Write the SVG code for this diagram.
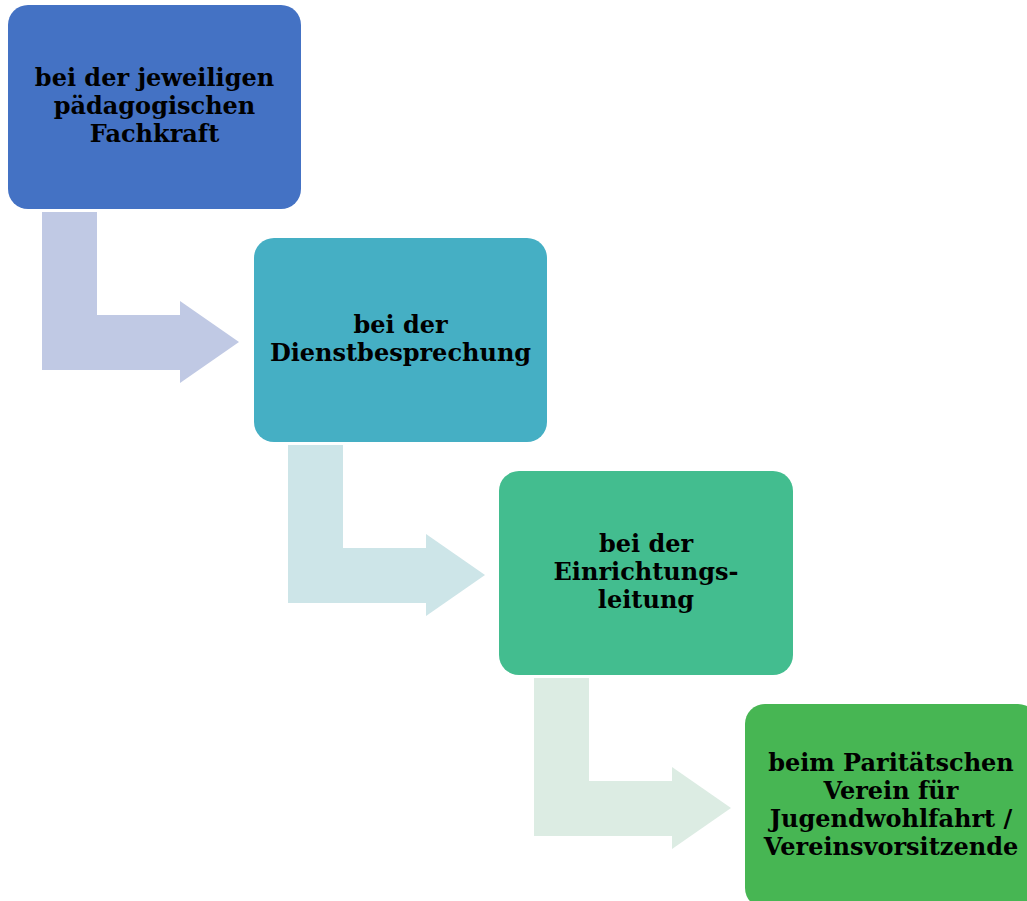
<svg xmlns="http://www.w3.org/2000/svg" width="1027" height="901" viewBox="0 0 1027 901">
<defs>
<style>
.t{font-family:"DejaVu Serif","Liberation Serif",serif;font-weight:bold;font-size:24px;fill:#000;text-anchor:middle}
</style>
<path id="arr" d="M42,212 H97 V315 H180 V301 L239,342 L180,383 V370 H42 Z"/>
</defs>
<rect width="1027" height="901" fill="#fff"/>
<g id="connectors">
<use href="#arr" fill="#C0C9E4"/>
<use href="#arr" fill="#CDE5E8" transform="translate(246,233)"/>
<use href="#arr" fill="#DCECE3" transform="translate(492,466)"/>
</g>
<g id="n1">
<rect x="8" y="5" width="293" height="204" rx="20" fill="#4472C4"/>
<text class="t"><tspan x="154.5" y="86">bei der jeweiligen</tspan><tspan x="154.5" y="114">pädagogischen</tspan><tspan x="154.5" y="142">Fachkraft</tspan></text>
</g>
<g id="n2">
<rect x="254" y="238" width="293" height="204" rx="20" fill="#45AFC4"/>
<text class="t"><tspan x="400.5" y="333">bei der</tspan><tspan x="400.5" y="361">Dienstbesprechung</tspan></text>
</g>
<g id="n3">
<rect x="499" y="471" width="294" height="204" rx="20" fill="#43BD8F"/>
<text class="t"><tspan x="646" y="552">bei der</tspan><tspan x="646" y="580">Einrichtungs-</tspan><tspan x="646" y="608">leitung</tspan></text>
</g>
<g id="n4">
<rect x="745" y="704" width="293" height="204" rx="20" fill="#47B653"/>
<text class="t"><tspan x="891" y="771">beim Paritätschen</tspan><tspan x="891" y="799">Verein für</tspan><tspan x="891" y="827">Jugendwohlfahrt /</tspan><tspan x="891" y="855">Vereinsvorsitzende</tspan></text>
</g>
</svg>
